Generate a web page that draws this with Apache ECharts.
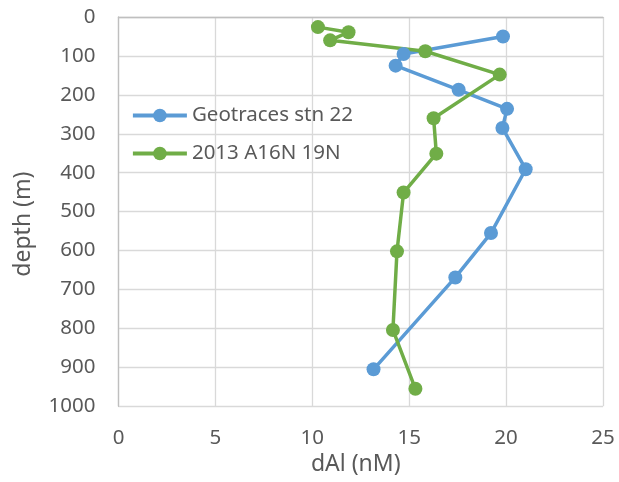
<!DOCTYPE html>
<html>
<head>
<meta charset="utf-8">
<script src="https://cdn.jsdelivr.net/npm/echarts@6/dist/echarts.min.js"></script>
<style>
  html, body { margin: 0; padding: 0; background: #fff; }
  #chart { width: 619px; height: 482px; }
</style>
</head>
<body>
<div id="chart"></div>
<script>
// Dissolved aluminium profiles: dAl (nM) against depth (m)
const geotracesName = 'Geotraces stn 22';
const geotracesDAl   = [19.84, 14.71, 14.3, 17.55, 20.05, 19.81, 21.01, 19.22, 17.38, 13.16];
const geotracesDepth = [50, 95, 125, 187, 236, 285, 391, 555, 669, 905];

const a16nName = '2013 A16N 19N';
const a16nDAl   = [10.29, 11.87, 10.92, 15.83, 19.67, 16.26, 16.4, 14.71, 14.37, 14.16, 15.32];
const a16nDepth = [26, 39, 60, 88, 148, 260, 351, 451, 602, 804, 955];

const xTicks = { min: 0, max: 25, interval: 5 };
const yTicks = { min: 0, max: 1000, interval: 100 };

function pairs(xs, ys) { return xs.map((x, i) => [x, ys[i]]); }

const FONT = 'Noto Sans';
const TEXT = '#595959';
const SIZE = 20.5;
const TITLE_SIZE = 23;

const chart = echarts.init(document.getElementById('chart'), null, { renderer: 'canvas' });
chart.setOption({
  animation: false,
  backgroundColor: '#ffffff',
  textStyle: { fontFamily: FONT },
  grid: { left: 118.5, right: 16, top: 17, bottom: 75.7, containLabel: false },
  legend: {
    orient: 'vertical',
    left: 126,
    top: 100,
    itemWidth: 54,
    itemHeight: 17,
    itemGap: 17,
    lineStyle: { width: 3.8 },
    textStyle: { fontFamily: FONT, fontSize: SIZE, color: TEXT },
    data: [geotracesName, a16nName]
  },
  xAxis: {
    type: 'value',
    min: xTicks.min, max: xTicks.max, interval: xTicks.interval,
    name: 'dAl (nM)',
    nameLocation: 'middle',
    nameGap: 47,
    nameTextStyle: { fontFamily: FONT, fontSize: TITLE_SIZE, color: TEXT, padding: [0, 10, 0, 0] },
    axisLine: { show: true, lineStyle: { color: '#bfbfbf', width: 1.3 } },
    axisTick: { show: false },
    axisLabel: { fontFamily: FONT, fontSize: SIZE, color: TEXT, margin: 21 },
    splitLine: { show: true, lineStyle: { color: '#d9d9d9', width: 1.3 } }
  },
  yAxis: {
    type: 'value',
    inverse: true,
    min: yTicks.min, max: yTicks.max, interval: yTicks.interval,
    name: 'depth (m)',
    nameLocation: 'middle',
    nameGap: 84,
    nameRotate: 90,
    nameTextStyle: { fontFamily: FONT, fontSize: TITLE_SIZE, color: TEXT, padding: [0, 25, 0, 0] },
    axisLine: { show: true, onZero: false, lineStyle: { color: '#bfbfbf', width: 1.3 } },
    axisTick: { show: false },
    axisLabel: { fontFamily: FONT, fontSize: SIZE, color: TEXT, margin: 23, formatter: v => String(v) },
    splitLine: { show: true, lineStyle: { color: '#d9d9d9', width: 1.3 } }
  },
  series: [
    {
      name: geotracesName,
      type: 'line',
      data: pairs(geotracesDAl, geotracesDepth),
      color: '#5b9bd5',
      lineStyle: { width: 3.5, color: '#5b9bd5' },
      symbol: 'circle',
      symbolSize: 14,
      itemStyle: { color: '#5b9bd5' }
    },
    {
      name: a16nName,
      type: 'line',
      data: pairs(a16nDAl, a16nDepth),
      color: '#70ad47',
      lineStyle: { width: 3.5, color: '#70ad47' },
      symbol: 'circle',
      symbolSize: 14,
      itemStyle: { color: '#70ad47' }
    }
  ]
});
</script>
</body>
</html>
